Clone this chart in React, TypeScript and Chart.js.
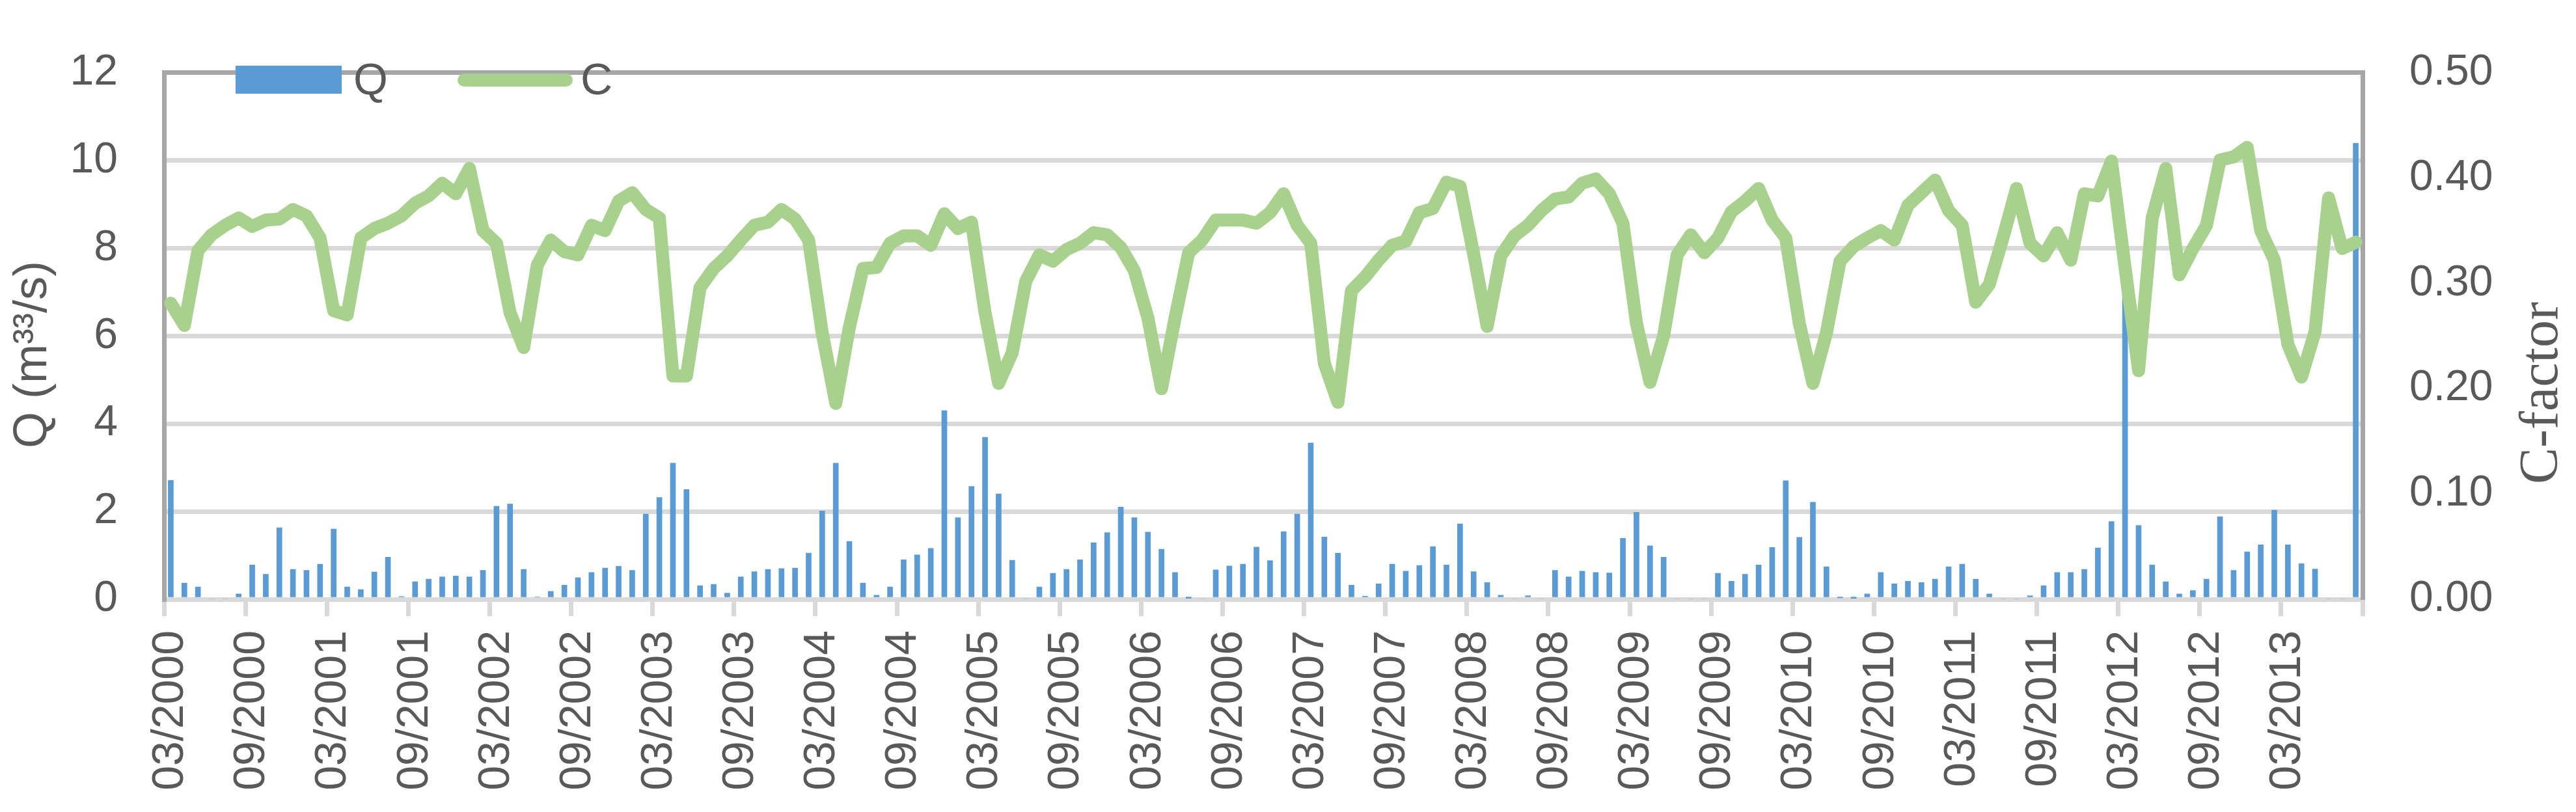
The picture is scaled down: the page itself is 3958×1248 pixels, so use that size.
import { useEffect, useRef } from 'react';
import { Chart, registerables } from 'chart.js';

Chart.register(...registerables);

// ---- data (monthly, 03/2000 .. 08/2013) ----
const START_YEAR = 2000;
const START_MONTH = 3;

const Q_VALUES: number[] = [
  2.71, 0.37, 0.28, 0, 0, 0.12, 0.78, 0.57, 1.63, 0.68,
  0.66, 0.80, 1.60, 0.28, 0.22, 0.62, 0.96, 0.06, 0.40, 0.46,
  0.51, 0.53, 0.51, 0.66, 2.12, 2.17, 0.68, 0.05, 0.18, 0.32,
  0.49, 0.61, 0.71, 0.75, 0.66, 1.94, 2.32, 3.10, 2.50, 0.31,
  0.34, 0.14, 0.51, 0.63, 0.68, 0.70, 0.71, 1.05, 2.01, 3.10,
  1.32, 0.37, 0.09, 0.28, 0.90, 1.01, 1.16, 4.30, 1.86, 2.57,
  3.69, 2.40, 0.89, 0, 0.28, 0.59, 0.68, 0.90, 1.29, 1.52,
  2.10, 1.86, 1.53, 1.14, 0.61, 0.02, 0, 0.67, 0.76, 0.80,
  1.19, 0.88, 1.54, 1.94, 3.56, 1.42, 1.05, 0.32, 0.07, 0.35,
  0.80, 0.64, 0.77, 1.20, 0.78, 1.72, 0.63, 0.38, 0.09, 0,
  0.08, 0, 0.66, 0.51, 0.64, 0.61, 0.60, 1.39, 1.98, 1.22,
  0.96, 0, 0, 0, 0.59, 0.41, 0.57, 0.78, 1.18, 2.70,
  1.41, 2.21, 0.74, 0.03, 0.02, 0.12, 0.61, 0.35, 0.41, 0.38,
  0.46, 0.74, 0.80, 0.46, 0.12, 0, 0, 0.08, 0.31, 0.61,
  0.61, 0.68, 1.17, 1.77, 7.00, 1.68, 0.78, 0.40, 0.12, 0.20,
  0.46, 1.88, 0.66, 1.08, 1.24, 2.03, 1.24, 0.81, 0.69, 0,
  0, 10.39,
];

const C_VALUES: number[] = [
  0.281, 0.260, 0.331, 0.346, 0.355, 0.362, 0.354, 0.360, 0.361, 0.370,
  0.364, 0.343, 0.274, 0.270, 0.343, 0.352, 0.357, 0.364, 0.376, 0.383,
  0.395, 0.385, 0.409, 0.350, 0.338, 0.272, 0.239, 0.317, 0.341, 0.330,
  0.327, 0.355, 0.350, 0.378, 0.386, 0.370, 0.362, 0.212, 0.212, 0.296,
  0.314, 0.326, 0.341, 0.355, 0.358, 0.370, 0.361, 0.341, 0.253, 0.186,
  0.258, 0.314, 0.315, 0.338, 0.345, 0.345, 0.336, 0.366, 0.352, 0.358,
  0.272, 0.205, 0.234, 0.302, 0.327, 0.321, 0.332, 0.338, 0.348, 0.346,
  0.334, 0.312, 0.267, 0.200, 0.267, 0.329, 0.341, 0.360, 0.360, 0.360,
  0.357, 0.367, 0.385, 0.355, 0.338, 0.224, 0.187, 0.293, 0.306, 0.322,
  0.336, 0.340, 0.367, 0.371, 0.396, 0.392, 0.328, 0.259, 0.326, 0.345,
  0.355, 0.369, 0.380, 0.382, 0.395, 0.399, 0.385, 0.357, 0.262, 0.206,
  0.250, 0.327, 0.346, 0.329, 0.343, 0.368, 0.378, 0.390, 0.360, 0.343,
  0.262, 0.205, 0.253, 0.321, 0.335, 0.343, 0.350, 0.341, 0.374, 0.386,
  0.398, 0.369, 0.355, 0.282, 0.299, 0.343, 0.390, 0.338, 0.326, 0.348,
  0.322, 0.385, 0.383, 0.416, 0.315, 0.217, 0.362, 0.409, 0.308, 0.333,
  0.355, 0.417, 0.420, 0.429, 0.350, 0.322, 0.242, 0.211, 0.254, 0.381,
  0.333, 0.339,
];

const MONTHS: string[] = Q_VALUES.map((_, i) => {
  const k = START_MONTH - 1 + i;
  const m = (k % 12) + 1;
  const y = START_YEAR + Math.floor(k / 12);
  return `${String(m).padStart(2, '0')}/${y}`;
});

const TICK_LABELS: string[] = [
  '03/2000', '09/2000', '03/2001', '09/2001', '03/2002', '09/2002', '03/2003',
  '09/2003', '03/2004', '09/2004', '03/2005', '09/2005', '03/2006', '09/2006',
  '03/2007', '09/2007', '03/2008', '09/2008', '03/2009', '09/2009', '03/2010',
  '09/2010', '03/2011', '09/2011', '03/2012', '09/2012', '03/2013',
];

const Q_TICKS = [0, 2, 4, 6, 8, 10, 12];

// ---- styles ----
const W = 3958;
const H = 1248;
const BLUE = '#5b9bd5';
const GREEN = '#a9d18e';
const TEXT = '#595959';
const GRID = '#d9d9d9';
const BORDER = '#a6a6a6';
const SANS = '"Liberation Sans", Arial, sans-serif';
const SERIF = '"Liberation Serif", "Times New Roman", serif';

const overlay = {
  id: 'overlay',
  afterDraw(chart: any) {
    const ctx: CanvasRenderingContext2D = chart.ctx;
    ctx.save();
    // legend
    ctx.fillStyle = BLUE;
    ctx.fillRect(362, 101, 163, 43);
    ctx.strokeStyle = GREEN;
    ctx.lineWidth = 20;
    ctx.lineCap = 'round';
    ctx.beginPath();
    ctx.moveTo(713, 123);
    ctx.lineTo(870, 123);
    ctx.stroke();
    ctx.fillStyle = TEXT;
    ctx.font = `68px ${SANS}`;
    ctx.textAlign = 'left';
    ctx.textBaseline = 'alphabetic';
    ctx.fillText('Q', 543, 145);
    ctx.fillText('C', 892, 145);

    // left axis title
    ctx.save();
    ctx.translate(71, 545);
    ctx.rotate(-Math.PI / 2);
    ctx.textAlign = 'center';
    ctx.font = `72px ${SANS}`;
    ctx.fillText('Q (m\u00b3\u00b3/s)', 0, 0);
    ctx.restore();

    // right axis title
    ctx.save();
    ctx.translate(3929, 604);
    ctx.rotate(-Math.PI / 2);
    ctx.textAlign = 'center';
    ctx.font = `84px ${SERIF}`;
    ctx.fillText('C-factor', 0, 0);
    ctx.restore();
    ctx.restore();
  },
};

export default function App() {
  const ref = useRef<HTMLCanvasElement>(null);

  useEffect(() => {
    if (!ref.current) return;
    const chart = new Chart(ref.current, {
      type: 'bar',
      data: {
        labels: MONTHS,
        datasets: [
          {
            type: 'line',
            label: 'C',
            data: C_VALUES,
            yAxisID: 'y1',
            borderColor: GREEN,
            backgroundColor: GREEN,
            borderWidth: 20,
            pointRadius: 0,
            tension: 0,
            borderJoinStyle: 'round',
            borderCapStyle: 'round',
            order: 1,
          } as any,
          {
            type: 'bar',
            label: 'Q',
            data: Q_VALUES,
            yAxisID: 'y',
            backgroundColor: BLUE,
            barThickness: 8,
            borderWidth: 0,
            order: 2,
          } as any,
        ],
      },
      options: {
        responsive: false,
        animation: false,
        devicePixelRatio: 1,
        layout: { padding: { top: 54, left: 0, right: 0, bottom: 0 } },
        plugins: {
          legend: { display: false },
          tooltip: { enabled: false },
          title: { display: false },
        },
        scales: {
          x: {
            type: 'category',
            offset: true,
            grid: {
              offset: true,
              drawOnChartArea: false,
              drawTicks: true,
              tickLength: 26,
              lineWidth: 7,
              color: (c: any) =>
                c.index === undefined || c.index % 6 === 0 ? GRID : 'rgba(0,0,0,0)',
            },
            border: { display: true, color: GRID, width: 7 },
            ticks: {
              autoSkip: false,
              minRotation: 90,
              maxRotation: 90,
              padding: 22,
              color: TEXT,
              font: { family: SANS, size: 68 },
              callback: (_v: any, i: number) =>
                TICK_LABELS.includes(MONTHS[i]) ? MONTHS[i] : '',
            },
            afterFit: (s: any) => {
              s.height = H - 921;
            },
          },
          y: {
            type: 'linear',
            position: 'left',
            min: 0,
            max: 12,
            afterBuildTicks: (s: any) => {
              s.ticks = Q_TICKS.map((v) => ({ value: v }));
            },
            grid: {
              drawTicks: false,
              lineWidth: 7,
              color: (c: any) => (c.tick && c.tick.value === 12 ? BORDER : GRID),
            },
            border: { display: true, color: BORDER, width: 7 },
            ticks: {
              padding: 71,
              color: TEXT,
              font: { family: SANS, size: 66 },
              callback: (v: any) => String(v),
            },
            afterFit: (s: any) => {
              s.width = 252;
            },
          },
          y1: {
            type: 'linear',
            position: 'right',
            min: 0,
            max: 0.5,
            ticks: {
              stepSize: 0.1,
              padding: 72,
              color: TEXT,
              font: { family: SANS, size: 66 },
              callback: (v: any) => Number(v).toFixed(2),
            },
            grid: { drawOnChartArea: false, drawTicks: false },
            border: { display: true, color: BORDER, width: 7 },
            afterFit: (s: any) => {
              s.width = W - 3630;
            },
          },
        },
      } as any,
      plugins: [overlay],
    });
    return () => chart.destroy();
  }, []);

  return (
    <div style={{ position: 'fixed', left: 0, top: 0, width: W, height: H, background: '#fff' }}>
      <canvas ref={ref} width={W} height={H} style={{ display: 'block', width: W, height: H }} />
    </div>
  );
}
